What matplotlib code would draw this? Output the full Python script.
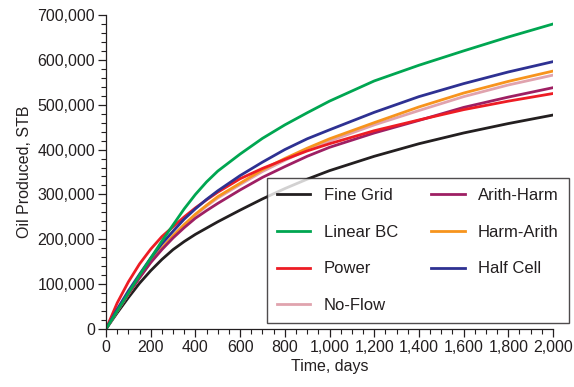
import matplotlib
matplotlib.use("Agg")
import matplotlib.pyplot as plt
from matplotlib.ticker import FuncFormatter, MultipleLocator

plt.rcParams["font.family"] = ["Liberation Sans", "DejaVu Sans"]

# time axis (days) and cumulative oil (thousand STB)
days = [0, 50, 100, 150, 200, 250, 300, 350, 400, 450, 500, 600, 700, 800, 900, 1000,
        1200, 1400, 1600, 1800, 2000]

fine_grid = [0, 36, 70, 102, 130, 155, 177, 195, 211, 225, 239, 265, 290, 313, 334, 353,
             385, 413, 437, 458, 477]
linear_bc = [0, 40, 80, 120, 158, 196, 232, 268, 300, 328, 352, 390, 425, 455, 482, 508,
             553, 588, 620, 651, 680]
power = [0, 58, 105, 145, 178, 206, 228, 250, 270, 288, 305, 335, 358, 378, 397, 413,
         442, 466, 489, 508, 525]
no_flow = [0, 40, 78, 115, 150, 179, 207, 231, 254, 274, 292, 322, 351, 376, 399, 419,
           455, 487, 518, 544, 566]
arith_harm = [0, 40, 78, 114, 148, 177, 203, 226, 247, 264, 280, 310, 338, 362, 385, 405,
              437, 465, 494, 517, 538]
harm_arith = [0, 40, 78, 115, 150, 180, 208, 233, 256, 276, 295, 325, 355, 380, 403, 424,
              460, 495, 526, 552, 575]
half_cell = [0, 44, 85, 122, 158, 190, 218, 245, 268, 289, 308, 342, 372, 400, 424, 444,
             483, 518, 547, 573, 596]

series = [
    ("Fine Grid", fine_grid, "#231f20"),
    ("Linear BC", linear_bc, "#00a651"),
    ("Power", power, "#ed1c24"),
    ("No-Flow", no_flow, "#e0a3ae"),
    ("Arith-Harm", arith_harm, "#9e1f63"),
    ("Harm-Arith", harm_arith, "#f7941d"),
    ("Half Cell", half_cell, "#2e3192"),
]
draw_order = [0, 3, 5, 4, 2, 6, 1]

fig = plt.figure(figsize=(5.74, 3.87), dpi=100)
ax = fig.add_axes([0.1847, 0.1499, 0.7787, 0.8113])

handles = [None] * len(series)
for i in draw_order:
    name, vals, col = series[i]
    handles[i], = ax.plot(days, [v * 1000 for v in vals], color=col, lw=2.0, label=name)

ax.set_xlim(0, 2000)
ax.set_ylim(0, 700000)
ax.xaxis.set_major_locator(MultipleLocator(200))
ax.xaxis.set_minor_locator(MultipleLocator(50))
ax.yaxis.set_major_locator(MultipleLocator(100000))
ax.yaxis.set_minor_locator(MultipleLocator(20000))
fmt = FuncFormatter(lambda v, p: f"{v:,.0f}")
ax.xaxis.set_major_formatter(fmt)
ax.yaxis.set_major_formatter(fmt)

for s in ("top", "right"):
    ax.spines[s].set_visible(False)
for s in ("left", "bottom"):
    ax.spines[s].set_linewidth(0.9)
    ax.spines[s].set_color("#231f20")

ax.tick_params(which="major", direction="out", length=6, width=0.9, labelsize=11.5,
               colors="#231f20", pad=2)
ax.tick_params(which="minor", direction="out", length=3.5, width=0.8, colors="#231f20")

ax.set_xlabel("Time, days", fontsize=11.5, color="#231f20", labelpad=3)
ax.set_ylabel("Oil Produced, STB", fontsize=11.5, color="#231f20", labelpad=4)

leg = ax.legend(handles=handles, ncol=2, loc="upper left",
                bbox_to_anchor=(267 / 574, 1 - 178 / 387), bbox_transform=fig.transFigure,
                fontsize=12, frameon=True, fancybox=False, handlelength=2.0,
                handletextpad=0.8, columnspacing=2.0, labelspacing=1.3,
                borderpad=0.6, borderaxespad=0)
leg.get_frame().set_edgecolor("#231f20")
leg.get_frame().set_linewidth(1.0)
for t in leg.get_texts():
    t.set_color("#231f20")

fig.savefig("out.png", dpi=100)
